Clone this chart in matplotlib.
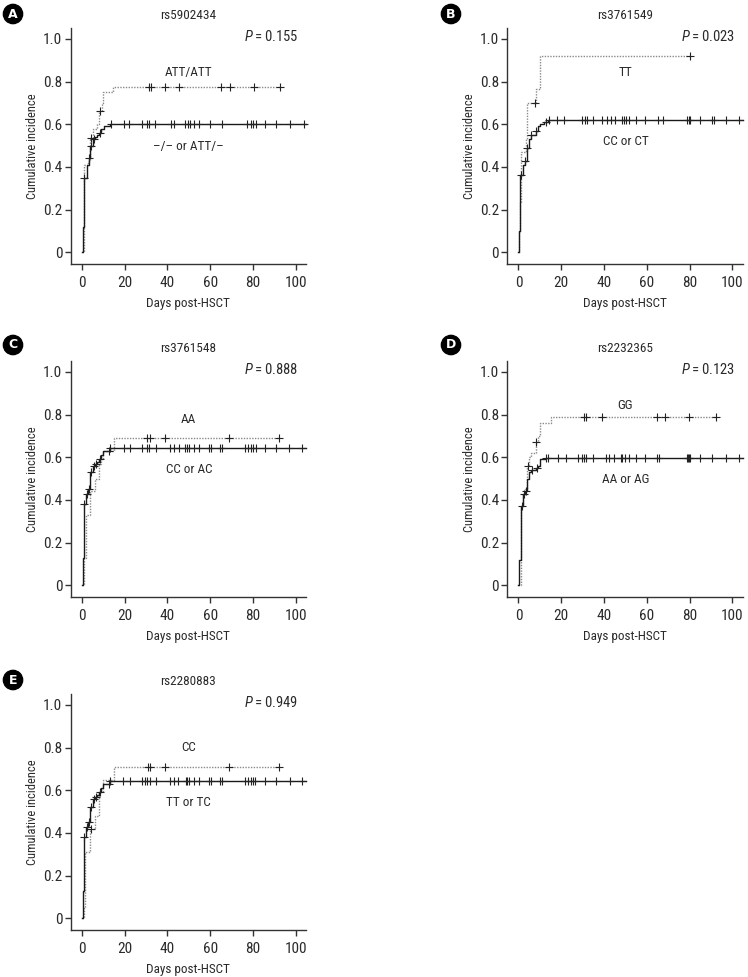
import numpy as np
import matplotlib
matplotlib.use('Agg')
import matplotlib.pyplot as plt

FONT = 'Roboto Condensed'
plt.rcParams['font.family'] = [FONT, 'DejaVu Sans']
plt.rcParams['mathtext.fontset'] = 'custom'
plt.rcParams['mathtext.it'] = FONT + ':italic'
plt.rcParams['mathtext.rm'] = FONT

# ---- data ----
titles = ['rs5902434', 'rs3761549', 'rs3761548', 'rs2232365', 'rs2280883']
letters = ['A', 'B', 'C', 'D', 'E']
p_values = ['0.155', '0.023', '0.888', '0.123', '0.949']
dotted_labels = ['ATT/ATT', 'TT', 'AA', 'GG', 'CC']
solid_labels = ['\u2013/\u2013 or ATT/\u2013', 'CC or CT', 'CC or AC', 'AA or AG', 'TT or TC']
dotted_label_y = [0.845, 0.842, 0.777, 0.842, 0.80]
solid_label_y = [0.497, 0.519, 0.545, 0.498, 0.543]

# panel A
a_solid_t = [0.4, 1.0, 2.5, 3.3, 4.0, 5.0, 6.0, 7.0, 8.0, 9.0, 10.5, 13.0]
a_solid_y = [0.12, 0.35, 0.41, 0.44, 0.50, 0.53, 0.54, 0.55, 0.56, 0.58, 0.59, 0.60]
a_solid_cens = [1.2, 3.5, 4.2, 5.5, 8.5, 13.7, 19.5, 22.1, 28.0, 30.5, 31.5, 34.4, 41.7, 43.0, 48.4,
                49.5, 50.6, 52.6, 55.0, 59.7, 65.4, 77.1, 79.0, 80.2, 81.2, 85.7, 91.0, 97.4, 103.9]
a_dot_t = [1.2, 2.7, 3.8, 5.4, 7.0, 8.2, 9.3, 10.1, 14.8]
a_dot_y = [0.41, 0.43, 0.535, 0.58, 0.60, 0.66, 0.70, 0.75, 0.775]
a_dot_cens = [4.2, 8.3, 31.2, 32.3, 39.1, 45.2, 65.1, 69.3, 80.5, 92.7]

# panel B
b_solid_t = [0.2, 0.8, 2.0, 3.0, 4.0, 5.0, 6.0, 8.0, 9.0, 10.0, 12.0, 14.0]
b_solid_y = [0.10, 0.36, 0.41, 0.43, 0.49, 0.53, 0.55, 0.57, 0.59, 0.60, 0.61, 0.62]
b_solid_cens = [1.0, 3.0, 4.0, 6.0, 8.0, 13.0, 14.4, 18.0, 21.2, 29.9, 31.0, 31.9, 35.0, 39.2, 41.5,
                43.3, 45.0, 48.5, 49.4, 50.3, 51.7, 54.8, 59.1, 65.2, 67.8, 78.9, 79.6, 80.2,
                84.8, 90.7, 91.6, 97.2, 103.1]
b_dot_t = [0.3, 0.6, 1.0, 3.5, 4.0, 8.0, 10.0]
b_dot_y = [0.10, 0.23, 0.47, 0.53, 0.70, 0.765, 0.92]
b_dot_cens = [7.9, 80.2]

# panel C
c_solid_t = [0.5, 1.0, 2.0, 3.0, 4.0, 5.0, 6.0, 7.0, 8.0, 9.0, 10.0, 13.0]
c_solid_y = [0.13, 0.38, 0.43, 0.45, 0.53, 0.56, 0.57, 0.58, 0.59, 0.61, 0.63, 0.645]
c_solid_cens = [1.2, 2.3, 3.3, 4.3, 5.5, 6.5, 8.5, 12.5, 13.2, 19.9, 22.4, 28.3, 30.7, 31.6, 34.9,
                41.4, 43.1, 45.2, 48.4, 49.4, 50.3, 52.5, 54.7, 59.5, 60.3, 64.8, 65.4, 76.3,
                77.9, 79.1, 80.1, 81.3, 85.4, 90.8, 97.0, 103.1]
c_dot_t = [0.8, 1.0, 2.0, 4.0, 6.0, 8.0, 9.0, 10.0, 15.0]
c_dot_y = [0.07, 0.13, 0.33, 0.44, 0.50, 0.57, 0.59, 0.63, 0.69]
c_dot_cens = [30.5, 32.1, 39.1, 69.0, 92.4]

# panel D
d_solid_t = [0.5, 1.0, 2.0, 3.0, 4.0, 5.0, 6.0, 8.0, 9.0, 10.0, 13.0]
d_solid_y = [0.12, 0.37, 0.43, 0.44, 0.50, 0.53, 0.54, 0.55, 0.56, 0.59, 0.595]
d_solid_cens = [1.5, 2.5, 3.5, 6.5, 8.5, 13.0, 13.8, 18.3, 22.1, 28.0, 29.6, 30.8, 31.4, 35.0,
                40.9, 42.4, 44.6, 47.8, 48.6, 49.7, 51.7, 54.8, 59.3, 65.0, 65.8, 78.6, 79.3,
                79.9, 80.3, 84.8, 90.7, 96.9, 102.9]
d_dot_t = [1.0, 2.0, 3.0, 4.0, 5.0, 6.0, 8.0, 9.0, 10.0, 15.0]
d_dot_y = [0.37, 0.43, 0.45, 0.56, 0.60, 0.62, 0.67, 0.70, 0.76, 0.79]
d_dot_cens = [4.3, 8.3, 30.8, 31.7, 39.2, 64.7, 68.7, 79.9, 92.3]

# panel E
e_solid_t = [0.5, 1.0, 2.0, 3.0, 4.0, 5.0, 6.0, 7.0, 8.0, 9.0, 10.0, 13.0]
e_solid_y = [0.13, 0.38, 0.43, 0.45, 0.52, 0.56, 0.57, 0.58, 0.59, 0.61, 0.63, 0.645]
e_solid_cens = [1.2, 2.3, 3.3, 4.3, 5.5, 6.5, 8.5, 12.5, 13.2, 19.2, 22.3, 28.3, 29.4, 30.7, 31.8,
                34.9, 41.4, 43.1, 45.0, 48.6, 49.4, 50.3, 52.5, 54.8, 59.5, 60.3, 64.8, 65.7,
                76.3, 77.9, 79.0, 80.1, 81.0, 85.4, 91.0, 97.1, 103.1]
e_dot_t = [0.8, 1.5, 4.0, 6.0, 8.0, 10.0, 15.0]
e_dot_y = [0.05, 0.31, 0.42, 0.48, 0.59, 0.65, 0.71]
e_dot_cens = [4.5, 30.8, 32.1, 39.1, 69.0, 92.4]

panels = [
    (a_solid_t, a_solid_y, a_solid_cens, a_dot_t, a_dot_y, a_dot_cens),
    (b_solid_t, b_solid_y, b_solid_cens, b_dot_t, b_dot_y, b_dot_cens),
    (c_solid_t, c_solid_y, c_solid_cens, c_dot_t, c_dot_y, c_dot_cens),
    (d_solid_t, d_solid_y, d_solid_cens, d_dot_t, d_dot_y, d_dot_cens),
    (e_solid_t, e_solid_y, e_solid_cens, e_dot_t, e_dot_y, e_dot_cens),
]

x_ticks = [0, 20, 40, 60, 80, 100]
y_ticks = [0, 0.2, 0.4, 0.6, 0.8, 1.0]
y_tick_labels = ['0', '0.2', '0.4', '0.6', '0.8', '1.0']


def step_value(t, y, c):
    idx = np.searchsorted(np.array(t), c, side='right') - 1
    return y[idx] if idx >= 0 else 0.0


def draw_curve(ax, t, y, cens, end, color, ls):
    xs = [0] + list(t) + [end]
    ys = [0] + list(y) + [y[-1]]
    ax.step(xs, ys, where='post', color=color, linestyle=ls, lw=1.0, clip_on=False)
    cy = [step_value(t, y, c) for c in cens]
    ax.plot(cens, cy, linestyle='none', marker='+', color='#222222', ms=5.5, mew=0.8, clip_on=False)


fig = plt.figure(figsize=(7.48, 9.77), dpi=100)
W, H = 748, 977
lefts = [70.7, 507.3]
bottoms = [264, 597, 930]
ax_w, ax_h = 235.3, 235.7
txt = '#2a2a2a'

for i, (st, sy, sc, dt, dy, dc) in enumerate(panels):
    col = i % 2
    row = i // 2
    l = lefts[col]
    b = bottoms[row]
    ax = fig.add_axes([l / W, 1 - b / H, ax_w / W, ax_h / H])
    draw_curve(ax, dt, dy, dc, dc[-1], '#8a8a8a', (0, (1, 1)))
    draw_curve(ax, st, sy, sc, 104.8, '#1a1a1a', '-')
    ax.set_xlim(-5.2, 104.8)
    ax.set_ylim(-0.055, 1.05)
    for s in ['top', 'right']:
        ax.spines[s].set_visible(False)
    for s in ['left', 'bottom']:
        ax.spines[s].set_linewidth(1.0)
        ax.spines[s].set_color('#333333')
    ax.set_xticks(x_ticks)
    ax.set_yticks(y_ticks)
    ax.set_yticklabels(y_tick_labels)
    ax.tick_params(labelsize=11, length=4, width=1, color='#333333', labelcolor=txt)
    ax.tick_params(axis='y', pad=2)
    ax.tick_params(axis='x', pad=4.5)
    ax.set_ylabel('Cumulative incidence', fontsize=9, color=txt, labelpad=3)
    ax.set_xlabel('Days post-HSCT', fontsize=9.5, color=txt, labelpad=5)
    ax.set_title(titles[i], fontsize=9.5, color=txt, pad=7)
    ax.text(88.5, 1.012, r'$\mathit{P}$' + '\u2009=\u2009' + p_values[i], ha='center',
            va='center', fontsize=10.5, color=txt)
    ax.text(50, dotted_label_y[i], dotted_labels[i], ha='center', va='center', fontsize=9.5,
            color=txt)
    ax.text(50, solid_label_y[i], solid_labels[i], ha='center', va='center', fontsize=9.5,
            color=txt)
    # panel letter
    lx = [13, 451][col]
    ly = [14, 345, 680][row]
    fig.text(lx / W, 1 - ly / H, letters[i], ha='center', va='center', fontsize=9,
             fontweight='bold', color='white', family='DejaVu Sans',
             bbox=dict(boxstyle='circle,pad=0.25', fc='black', ec='black'))

fig.savefig('out.png', dpi=100)
